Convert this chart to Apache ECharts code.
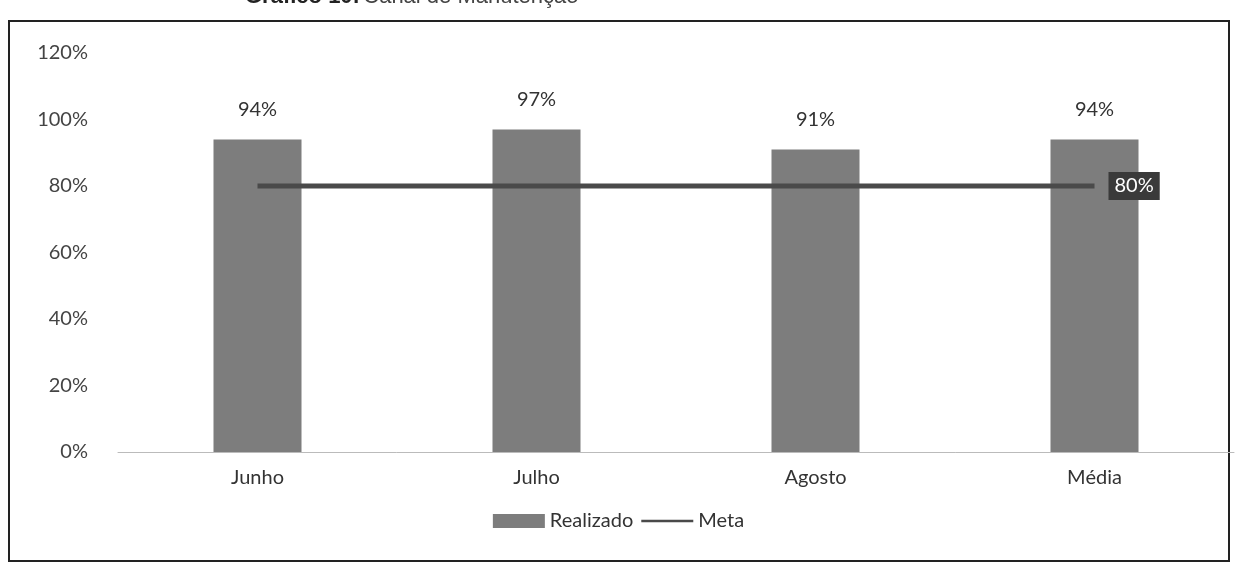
<!DOCTYPE html>
<html>
<head>
<meta charset="utf-8">
<script src="https://cdn.jsdelivr.net/npm/echarts@6/dist/echarts.min.js"></script>
<style>
  html, body { margin: 0; padding: 0; background: #fff; }
  #chart { width: 1237px; height: 564px; }
</style>
</head>
<body>
<div id="chart"></div>
<script>
const categories = ['Junho', 'Julho', 'Agosto', 'Média']
const realizado = [94, 97, 91, 94]
const meta = [80, 80, 80, 80]
const yTicks = [0, 20, 40, 60, 80, 100, 120]

const chart = echarts.init(document.getElementById('chart'))

const baseFont = 'Lato, "Open Sans", sans-serif'

const option = {
  backgroundColor: '#fff',
  animation: false,
  graphic: [
    {
      type: 'rect',
      shape: { x: 9, y: 21, width: 1220, height: 540 },
      style: { fill: 'none', stroke: '#222', lineWidth: 2 }
    },
    {
      type: 'text',
      left: 245,
      top: -14,
      style: {
        text: '{b|Gráfico 10:} {n|Canal de Manutenção}',
        rich: {
          b: { fontFamily: '"Liberation Sans", Arial', fontWeight: 'bold', fontSize: 22, fill: '#222' },
          n: { fontFamily: '"Liberation Sans", Arial', fontSize: 22, fill: '#444' }
        }
      }
    }
  ],
  legend: {
    bottom: 28,
    left: 'center',
    itemGap: 8,
    itemWidth: 52,
    itemHeight: 14,
    textStyle: { fontFamily: baseFont, fontSize: 20, color: '#333' },
    data: [
      { name: 'Realizado', icon: 'rect' },
      { name: 'Meta', icon: 'path://M0,6 L60,6 L60,9 L0,9 Z' }
    ]
  },
  grid: {
    left: 118,
    right: 3,
    top: 53,
    bottom: 112,
    containLabel: false
  },
  xAxis: {
    type: 'category',
    data: categories,
    axisLine: { lineStyle: { color: '#bbb', width: 1 } },
    axisTick: { show: false },
    axisLabel: {
      fontFamily: baseFont,
      fontSize: 20,
      color: '#333',
      margin: 16
    }
  },
  yAxis: {
    type: 'value',
    min: 0,
    max: 120,
    interval: 20,
    axisLine: { show: false },
    axisTick: { show: false },
    splitLine: { show: false },
    axisLabel: {
      fontFamily: baseFont,
      fontSize: 20,
      color: '#444',
      margin: 30,
      formatter: v => (yTicks.includes(v) ? v + '%' : '')
    }
  },
  series: [
    {
      name: 'Realizado',
      type: 'bar',
      data: realizado,
      barWidth: 88,
      itemStyle: { color: '#7d7d7d' },
      label: {
        show: true,
        position: 'top',
        distance: 20,
        fontFamily: baseFont,
        fontSize: 20,
        color: '#333',
        formatter: p => p.value + '%'
      }
    },
    {
      name: 'Meta',
      type: 'line',
      data: meta,
      symbol: 'none',
      lineStyle: { color: '#4a4a4a', width: 5 },
      itemStyle: { color: '#4a4a4a' },
      endLabel: {
        show: true,
        formatter: p => p.value + '%',
        fontFamily: baseFont,
        fontSize: 20,
        color: '#fff',
        backgroundColor: '#3a3a3a',
        padding: [4, 6],
        distance: 14
      }
    }
  ]
}

chart.setOption(option)
</script>
</body>
</html>
